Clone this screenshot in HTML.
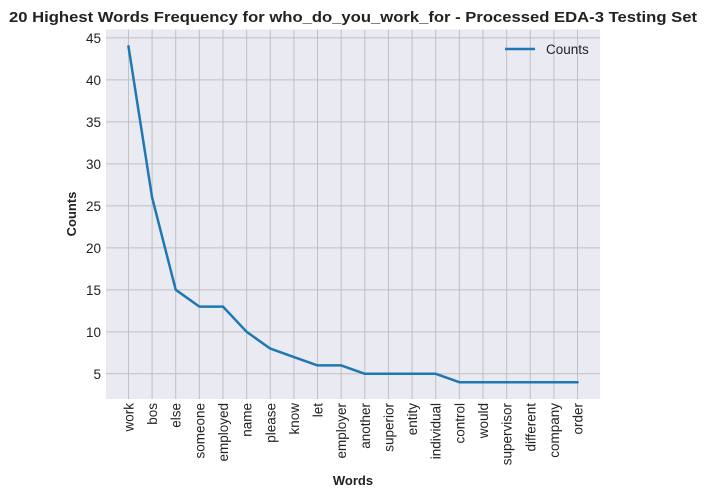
<!DOCTYPE html>
<html><head><meta charset="utf-8"><style>
html,body{margin:0;padding:0;background:#fff;}
svg{display:block;font-family:"Liberation Sans",Arial,sans-serif;}
</style></head><body>
<svg id="chart" width="707" height="498">
<text x="353" y="22" text-anchor="middle" font-size="14.5" font-weight="bold" fill="#222" textLength="688" lengthAdjust="spacingAndGlyphs">20 Highest Words Frequency for who_do_you_work_for - Processed EDA-3 Testing Set</text>
<rect x="106" y="29.5" width="494" height="369.5" fill="#eaeaf2"/>
<g id="grid"></g><g id="xt"></g><g id="yt"></g><g id="series"></g>
<text x="353" y="485" text-anchor="middle" font-size="13" font-weight="bold" fill="#222">Words</text>
<text transform="translate(76,214) rotate(-90)" text-anchor="middle" font-size="13" font-weight="bold" fill="#222">Counts</text>
<g>
<line x1="505" y1="49" x2="535" y2="49" stroke="#1f77b4" stroke-width="2.5"/>
<text x="546" y="54" font-size="13.5" fill="#222">Counts</text>
</g>
</svg>
<script>
const words=["work","bos","else","someone","employed","name","please","know","let","employer","another","superior","entity","individual","control","would","supervisor","different","company","order"];
const counts=[44,26,15,13,13,10,8,7,6,6,5,5,5,5,4,4,4,4,4,4];
const yTicks=[5,10,15,20,25,30,35,40,45];
const NS="http://www.w3.org/2000/svg";
const L=106,R=600,T=29.5,B=399;
const x=i=>L+(i+0.95)/20.9*(R-L);
const y=v=>B-(v-2)/44*(B-T);
function mk(t,a,p){const e=document.createElementNS(NS,t);for(const k in a)e.setAttribute(k,a[k]);p.appendChild(e);return e;}
const grid=document.getElementById('grid'),xt=document.getElementById('xt'),yt=document.getElementById('yt'),ser=document.getElementById('series');
words.forEach((w,i)=>{
 const g=mk('line',{x1:x(i),x2:x(i),y1:T,y2:B,stroke:'#c0c0c0','stroke-width':1},grid);
 
 
 const t=mk('text',{transform:`translate(${x(i)+5},${B+4}) rotate(-90)`,'text-anchor':'end','font-size':13.5,fill:'#222'},xt);
 t.textContent=w;
 
 
});
yTicks.forEach(v=>{
 const g=mk('line',{x1:L,x2:R,y1:y(v),y2:y(v),stroke:'#c0c0c0','stroke-width':1},grid);
 
 
 const t=mk('text',{x:L-5,y:y(v)+5,'text-anchor':'end','font-size':13.5,fill:'#222'},yt);
 t.textContent=v;
 
 
});
const p=mk('polyline',{points:counts.map((c,i)=>x(i)+','+y(c)).join(' '),fill:'none',stroke:'#1f77b4','stroke-width':2.5,'stroke-linejoin':'round','stroke-linecap':'round'},ser);


</script>
</body></html>
